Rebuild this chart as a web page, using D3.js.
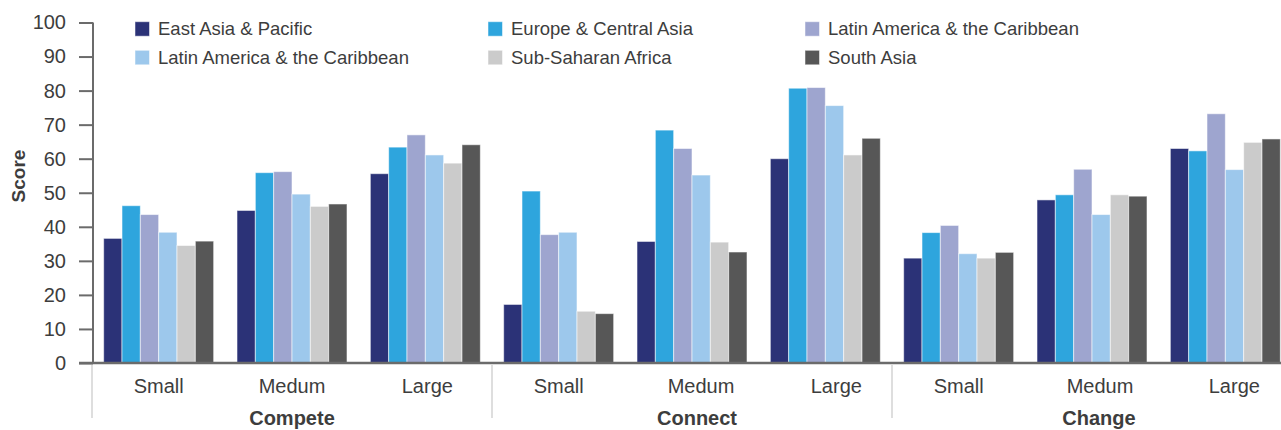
<!DOCTYPE html>
<html>
<head>
<meta charset="utf-8">
<script src="https://cdn.jsdelivr.net/npm/d3@7"></script>
<style>
  html, body { margin: 0; padding: 0; background: #fff; }
  svg { display: block; font-family: "Liberation Sans", Arial, Helvetica, sans-serif; }
</style>
</head>
<body>
<svg id="chart" width="1281" height="430"></svg>
<script>
// Pillars and firm-size categories along the x axis
const pillars = ["Compete", "Connect", "Change"];
const sizes = ["Small", "Medum", "Large"];

// Regions (series), in drawing order
const regions = [
  "East Asia & Pacific",
  "Europe & Central Asia",
  "Latin America & the Caribbean",
  "Latin America & the Caribbean ",
  "Sub-Saharan Africa",
  "South Asia"
];
const regionLabels = [
  "East Asia & Pacific",
  "Europe & Central Asia",
  "Latin America & the Caribbean",
  "Latin America & the Caribbean",
  "Sub-Saharan Africa",
  "South Asia"
];
const regionColors = ["#2b3277", "#2ea5dd", "#9ea5cf", "#9dc8ec", "#cbcbcb", "#575757"];

// Scores per region, one value per pillar/size category
// (Compete S/M/L, Connect S/M/L, Change S/M/L)
const eastAsiaPacific      = [36.6, 44.8, 55.6, 17.2, 35.7, 60.0, 30.8, 47.9, 63.0];
const europeCentralAsia    = [46.2, 55.9, 63.4, 50.5, 68.4, 80.7, 38.3, 49.4, 62.3];
const latinAmericaCarib    = [43.6, 56.2, 67.0, 37.7, 63.0, 80.9, 40.4, 56.9, 73.2];
const latinAmericaCarib2   = [38.4, 49.6, 61.1, 38.4, 55.2, 75.6, 32.1, 43.6, 56.8];
const subSaharanAfrica     = [34.5, 46.0, 58.7, 15.2, 35.5, 61.1, 30.8, 49.4, 64.8];
const southAsia            = [35.8, 46.7, 64.1, 14.5, 32.6, 66.0, 32.5, 49.0, 65.8];

const seriesValues = [eastAsiaPacific, europeCentralAsia, latinAmericaCarib,
                      latinAmericaCarib2, subSaharanAfrica, southAsia];

const yTicks = [0, 10, 20, 30, 40, 50, 60, 70, 80, 90, 100];

// Flattened category keys
const categories = [];
pillars.forEach(p => sizes.forEach(s => categories.push(p + "|" + s)));

const svg = d3.select("#chart");
const textColor = "#3d3d3d";
const axisColor = "#6b6b6b";

const axisX = 93, baseY = 363, topY = 22.5;

// Small horizontal nudges for the category and pillar captions
const sizeLabelNudge = [0, 0, 2, 0, 9, 11, 0, 8, 9];
const pillarLabelNudge = [0, 5, 7];

const y = d3.scaleLinear().domain([0, 100]).range([baseY, topY]);
const x0 = d3.scaleBand().domain(categories).range([axisX - 1, axisX - 1 + 1200])
  .paddingInner(0.175).paddingOuter(0.0875);
const x1 = d3.scaleBand().domain(regions).range([0, x0.bandwidth()]);
const pillarScale = d3.scaleBand().domain(pillars).range([axisX, axisX + 1200]);

// Bars
const groups = svg.append("g").selectAll("g")
  .data(categories)
  .join("g")
  .attr("transform", d => `translate(${x0(d)},0)`);

groups.selectAll("rect")
  .data((d, ci) => regions.map((r, ri) => ({ r, ri, v: seriesValues[ri][ci] })))
  .join("rect")
  .attr("x", d => x1(d.r))
  .attr("y", d => y(d.v))
  .attr("width", x1.bandwidth())
  .attr("height", d => baseY - y(d.v))
  .attr("fill", d => regionColors[d.ri])
  .attr("stroke", "#ffffff")
  .attr("stroke-opacity", 0.55)
  .attr("stroke-width", 1);

// Y axis
const yAxis = d3.axisLeft(y).tickValues(yTicks).tickSize(14).tickPadding(13);
const yg = svg.append("g").attr("transform", `translate(${axisX},0)`).call(yAxis);
yg.select(".domain").attr("stroke", axisColor).attr("stroke-width", 2)
  .attr("d", `M0,${topY}V${baseY}`);
yg.selectAll(".tick line").attr("stroke", axisColor).attr("stroke-width", 2);
yg.selectAll(".tick text").attr("fill", textColor)
  .style("font-size", "20px").style("font-family", "'Liberation Sans', Arial, sans-serif");

// Baseline
svg.append("line")
  .attr("x1", axisX - 14).attr("x2", 1281)
  .attr("y1", baseY).attr("y2", baseY)
  .attr("stroke", axisColor).attr("stroke-width", 2.5);

// Pillar separators below the axis
svg.append("g").selectAll("line")
  .data(pillars)
  .join("line")
  .attr("x1", d => pillarScale(d) - 1).attr("x2", d => pillarScale(d) - 1)
  .attr("y1", baseY + 2).attr("y2", 418)
  .attr("stroke", "#bdbdbd").attr("stroke-width", 1);

// Size labels
svg.append("g").selectAll("text")
  .data(categories)
  .join("text")
  .attr("x", (d, i) => x0(d) + x0.bandwidth() / 2 + sizeLabelNudge[i])
  .attr("y", 393)
  .attr("text-anchor", "middle")
  .attr("fill", textColor)
  .style("font-size", "20px")
  .text(d => d.split("|")[1]);

// Pillar labels
svg.append("g").selectAll("text")
  .data(pillars)
  .join("text")
  .attr("x", (d, i) => x0(d + "|Medum") + x0.bandwidth() / 2 + pillarLabelNudge[i])
  .attr("y", 425)
  .attr("text-anchor", "middle")
  .attr("fill", textColor)
  .style("font-size", "20px")
  .style("font-weight", "bold")
  .text(d => d);

// Y axis title
svg.append("text")
  .attr("transform", "translate(25,176) rotate(-90)")
  .attr("text-anchor", "middle")
  .attr("fill", textColor)
  .style("font-size", "19px")
  .style("font-weight", "bold")
  .text("Score");

// Legend: two rows, three columns
const legendCols = [135, 488, 805];
const legendRows = [21.7, 50.3];
const legend = svg.append("g").selectAll("g")
  .data(regions)
  .join("g")
  .attr("transform", (d, i) => `translate(${legendCols[i % 3]},${legendRows[Math.floor(i / 3)]})`);
legend.append("rect")
  .attr("width", 14.5).attr("height", 14.5)
  .attr("fill", (d, i) => regionColors[i])
  .attr("stroke", "#ffffff").attr("stroke-opacity", 0.5).attr("stroke-width", 1);
legend.append("text")
  .attr("x", 23).attr("y", 13.5)
  .attr("fill", textColor)
  .style("font-size", "18.5px")
  .text((d, i) => regionLabels[i]);
</script>
</body>
</html>
